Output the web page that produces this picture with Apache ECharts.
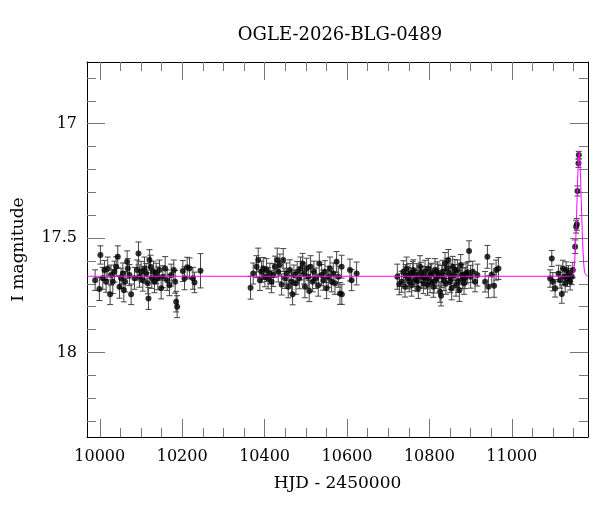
<!DOCTYPE html>
<html>
<head>
<meta charset="utf-8">
<script src="https://cdn.jsdelivr.net/npm/echarts@6/dist/echarts.min.js"></script>
<style>html,body{margin:0;padding:0;background:#fff;}#c{width:600px;height:512px;}</style>
</head>
<body>
<div id="c"></div>
<script>
var titleText = 'OGLE-2026-BLG-0489';
var xName = 'HJD - 2450000';
var yName = 'I magnitude';

var xMajorTicks = [10000, 10200, 10400, 10600, 10800, 11000];
var xMinorTicks = [10050, 10100, 10150, 10250, 10300, 10350, 10450, 10500, 10550, 10650, 10700, 10750, 10850, 10900, 10950, 11050, 11100, 11150];
var yMajorTicks = [17, 17.5, 18];
var yMinorTicks = [16.8, 16.9, 17.1, 17.2, 17.3, 17.4, 17.6, 17.7, 17.8, 17.9, 18.1, 18.2, 18.3];

var hjd = [
  9988.7, 10001.6, 9999.0, 10007.3, 10011.3, 10015.4, 10019.4, 10025.1, 10027.5, 10031.6,
  10035.6, 10039.7, 10043.7, 10047.8, 10051.8, 10055.9, 10058.3, 10061.5, 10066.4, 10068.0,
  10072.1, 10076.1, 10084.2, 10090.7, 10093.9, 10096.4, 10100.4, 10104.5, 10108.5, 10112.6,
  10116.6, 10118.2, 10120.6, 10123.1, 10126.3, 10130.4, 10132.8, 10136.9, 10140.9, 10145.0,
  10149.0, 10153.0, 10158.7, 10163.6, 10169.2, 10173.3, 10179.7, 10183.0, 10185.4, 10187.8,
  10201.6, 10205.6, 10212.1, 10217.8, 10226.0, 10230.0, 10244.5,
  10366.0, 10372.4, 10380.5, 10384.6, 10388.6, 10392.7, 10396.7, 10400.8, 10404.8, 10408.9,
  10412.9, 10417.0, 10421.0, 10425.1, 10430.7, 10433.2, 10437.2, 10441.3, 10445.3, 10449.4,
  10453.4, 10457.5, 10461.5, 10465.6, 10468.0, 10471.2, 10476.1, 10479.3, 10484.2, 10487.4,
  10492.3, 10495.5, 10497.9, 10502.0, 10506.0, 10508.5, 10511.7, 10516.6, 10519.8, 10524.7,
  10530.3, 10532.8, 10538.4, 10542.5, 10546.5, 10550.6, 10554.6, 10558.7, 10562.7, 10566.8,
  10570.8, 10574.9, 10578.9, 10583.0, 10587.0, 10587.5, 10607.3, 10611.3, 10623.4,
  10722.2, 10732.7, 10736.8, 10740.8, 10744.9, 10748.9, 10753.0, 10757.0, 10761.1, 10765.1,
  10769.2, 10773.2, 10777.3, 10781.3, 10785.4, 10789.4, 10793.5, 10797.5, 10801.6, 10805.6,
  10809.7, 10813.7, 10817.8, 10821.8, 10825.9, 10828.3, 10832.3, 10835.6, 10838.0, 10842.0,
  10846.1, 10850.1, 10854.2, 10856.6, 10859.9, 10864.7, 10868.0, 10872.8, 10876.0, 10880.9,
  10884.1, 10889.0, 10896.3, 10900.3, 10905.2, 10910.9, 10916.5, 10935.2, 10940.8, 10943.3,
  10951.4, 10957.0, 10961.9, 10967.6,
  10727.0, 10742.5, 10751.0, 10759.5, 10771.0, 10779.5, 10787.0, 10795.5, 10803.0, 10811.5,
  10819.5, 10830.0, 10840.0, 10848.0, 10852.0, 10862.0, 10870.0, 10878.5, 10886.5, 10893.0,
  11097.1, 11093.1, 11099.6, 11105.2, 11113.3, 11117.4, 11121.4, 11123.9, 11127.1, 11129.5,
  11132.0, 11135.2, 11137.6, 11141.7, 11145.7, 11148.1, 11153.8, 11156.2, 11157.9, 11159.5,
  11161.9, 11162.7
];
var mag = [
  17.684, 17.574, 17.723, 17.676, 17.640, 17.691, 17.633, 17.746, 17.662, 17.691,
  17.647, 17.625, 17.582, 17.713, 17.676, 17.655, 17.727, 17.691, 17.604, 17.633,
  17.662, 17.746, 17.676, 17.640, 17.567, 17.669, 17.647, 17.684, 17.633, 17.655,
  17.698, 17.764, 17.596, 17.625, 17.676, 17.647, 17.691, 17.655, 17.676, 17.640,
  17.720, 17.669, 17.633, 17.684, 17.706, 17.662, 17.640, 17.691, 17.778, 17.800,
  17.644, 17.676, 17.628, 17.633, 17.676, 17.694, 17.643,
  17.717, 17.655, 17.625, 17.596, 17.684, 17.647, 17.633, 17.669, 17.640, 17.676,
  17.655, 17.691, 17.662, 17.625, 17.596, 17.647, 17.618, 17.703, 17.596, 17.676,
  17.655, 17.713, 17.640, 17.691, 17.746, 17.662, 17.698, 17.647, 17.676, 17.633,
  17.611, 17.655, 17.713, 17.633, 17.669, 17.732, 17.625, 17.691, 17.647, 17.676,
  17.706, 17.611, 17.662, 17.684, 17.647, 17.720, 17.669, 17.633, 17.691, 17.655,
  17.698, 17.604, 17.669, 17.742, 17.625, 17.746, 17.640, 17.684, 17.655,
  17.669, 17.691, 17.647, 17.713, 17.633, 17.676, 17.655, 17.706, 17.640, 17.684,
  17.662, 17.720, 17.625, 17.669, 17.698, 17.647, 17.676, 17.633, 17.691, 17.655,
  17.713, 17.640, 17.676, 17.662, 17.735, 17.752, 17.647, 17.684, 17.611, 17.633,
  17.596, 17.691, 17.720, 17.625, 17.662, 17.706, 17.640, 17.727, 17.618, 17.676,
  17.698, 17.655, 17.557, 17.669, 17.647, 17.691, 17.662, 17.691, 17.582, 17.713,
  17.659, 17.709, 17.640, 17.633,
  17.702, 17.664, 17.690, 17.652, 17.688, 17.650, 17.672, 17.705, 17.660, 17.690,
  17.648, 17.668, 17.700, 17.655, 17.675, 17.640, 17.690, 17.660, 17.675, 17.650,
  17.589, 17.677, 17.691, 17.720, 17.655, 17.684, 17.745, 17.633, 17.669, 17.698,
  17.640, 17.677, 17.655, 17.691, 17.669, 17.640, 17.538, 17.450, 17.440, 17.294,
  17.173, 17.137
];
var err = [
  0.045, 0.040, 0.050, 0.048, 0.042, 0.046, 0.050, 0.045, 0.044, 0.052,
  0.046, 0.043, 0.048, 0.050, 0.044, 0.046, 0.052, 0.045, 0.048, 0.043,
  0.046, 0.045, 0.048, 0.044, 0.050, 0.046, 0.045, 0.048, 0.050, 0.044,
  0.046, 0.048, 0.045, 0.050, 0.044, 0.046, 0.048, 0.045, 0.050, 0.044,
  0.046, 0.048, 0.052, 0.045, 0.046, 0.048, 0.044, 0.050, 0.045, 0.048,
  0.046, 0.050, 0.044, 0.046, 0.048, 0.045, 0.075,
  0.050, 0.046, 0.048, 0.052, 0.045, 0.046, 0.048, 0.044, 0.050, 0.046,
  0.045, 0.048, 0.050, 0.046, 0.052, 0.045, 0.048, 0.046, 0.050, 0.044,
  0.046, 0.048, 0.045, 0.050, 0.046, 0.044, 0.048, 0.045, 0.046, 0.050,
  0.044, 0.046, 0.048, 0.045, 0.050, 0.046, 0.048, 0.044, 0.046, 0.045,
  0.048, 0.050, 0.046, 0.044, 0.048, 0.045, 0.046, 0.050, 0.044, 0.046,
  0.048, 0.045, 0.046, 0.048, 0.050, 0.044, 0.048, 0.046, 0.050,
  0.055, 0.046, 0.048, 0.045, 0.050, 0.046, 0.044, 0.048, 0.045, 0.046,
  0.050, 0.044, 0.048, 0.046, 0.045, 0.050, 0.046, 0.044, 0.048, 0.045,
  0.046, 0.050, 0.044, 0.048, 0.046, 0.045, 0.050, 0.046, 0.048, 0.044,
  0.046, 0.048, 0.050, 0.045, 0.046, 0.048, 0.044, 0.050, 0.046, 0.045,
  0.048, 0.046, 0.045, 0.050, 0.046, 0.044, 0.048, 0.045, 0.050, 0.048,
  0.046, 0.050, 0.044, 0.048,
  0.046, 0.048, 0.045, 0.050, 0.046, 0.044, 0.048, 0.045, 0.046, 0.050,
  0.044, 0.048, 0.046, 0.045, 0.050, 0.046, 0.048, 0.044, 0.046, 0.045,
  0.035, 0.038, 0.040, 0.038, 0.036, 0.035, 0.040, 0.036, 0.035, 0.038,
  0.036, 0.035, 0.034, 0.036, 0.035, 0.034, 0.030, 0.028, 0.026, 0.022,
  0.018, 0.016
];

var modelHjd = [9969, 11140, 11148, 11151, 11154, 11156, 11158, 11160, 11162, 11163.5, 11165, 11167, 11169, 11171, 11173, 11176, 11179, 11185];
var modelMag = [17.667, 17.667, 17.660, 17.640, 17.560, 17.470, 17.360, 17.240, 17.150, 17.120, 17.150, 17.240, 17.360, 17.470, 17.560, 17.640, 17.660, 17.667];

var xMin = 9969, xMax = 11185, yMin = 16.73, yMax = 18.37;

var pts = hjd.map(function (t, i) { return [t, mag[i], err[i]]; });
var model = modelHjd.map(function (t, i) { return [t, modelMag[i]]; });

var FONT = 'DejaVu Serif';
var tickCol = '#777';

function xAx(pos, major, showLabel) {
  return {
    type: 'value', position: pos, min: xMin, max: xMax,
    axisLine: { show: major, lineStyle: { color: '#000', width: 1 } },
    axisTick: { show: true, inside: true, length: major ? 18 : 9, customValues: major ? xMajorTicks : xMinorTicks, lineStyle: { color: tickCol, width: 1 } },
    axisLabel: { show: showLabel, customValues: xMajorTicks, formatter: function (v) { return String(v); }, fontFamily: FONT, fontSize: 16, color: '#000', margin: 12 },
    splitLine: { show: false },
    name: showLabel ? xName : '', nameLocation: 'middle', nameGap: 38,
    nameTextStyle: { fontFamily: FONT, fontSize: 17, color: '#000' }
  };
}
function yAx(pos, major, showLabel) {
  return {
    type: 'value', position: pos, min: yMin, max: yMax, inverse: true,
    axisLine: { show: major, lineStyle: { color: '#000', width: 1 } },
    axisTick: { show: true, inside: true, length: major ? 18 : 9, customValues: major ? yMajorTicks : yMinorTicks, lineStyle: { color: tickCol, width: 1 } },
    axisLabel: { show: showLabel, customValues: yMajorTicks, formatter: function (v) { return String(v); }, fontFamily: FONT, fontSize: 16, color: '#000', margin: 10 },
    splitLine: { show: false },
    name: showLabel ? yName : '', nameLocation: 'middle', nameGap: 60,
    nameTextStyle: { fontFamily: FONT, fontSize: 17, color: '#000' }
  };
}

var chart = echarts.init(document.getElementById('c'), null, { renderer: 'canvas' });
chart.setOption({
  animation: false,
  backgroundColor: '#fff',
  grid: { left: 87, right: 12, top: 62, bottom: 75, containLabel: false },
  graphic: [{
    type: 'text', x: 340, y: 35,
    style: { text: titleText, fontFamily: FONT, fontSize: 18, fill: '#000', textAlign: 'center', textVerticalAlign: 'middle' }
  }],
  xAxis: [xAx('bottom', true, true), xAx('bottom', false, false), xAx('top', true, false), xAx('top', false, false)],
  yAxis: [yAx('left', true, true), yAx('left', false, false), yAx('right', true, false), yAx('right', false, false)],
  series: [
    {
      type: 'custom', xAxisIndex: 0, yAxisIndex: 0, data: pts, z: 2,
      renderItem: function (params, api) {
        var x = api.value(0), y = api.value(1), e = api.value(2);
        var a = api.coord([x, y - e]);
        var b = api.coord([x, y + e]);
        var c = 3;
        var st = { stroke: '#444', lineWidth: 1 };
        return {
          type: 'group', children: [
            { type: 'line', shape: { x1: a[0], y1: a[1], x2: b[0], y2: b[1] }, style: st },
            { type: 'line', shape: { x1: a[0] - c, y1: a[1], x2: a[0] + c, y2: a[1] }, style: st },
            { type: 'line', shape: { x1: b[0] - c, y1: b[1], x2: b[0] + c, y2: b[1] }, style: st }
          ]
        };
      }
    },
    {
      type: 'scatter', xAxisIndex: 0, yAxisIndex: 0, z: 3,
      data: pts.map(function (p) { return [p[0], p[1]]; }),
      symbol: 'circle', symbolSize: 6, itemStyle: { color: '#000' }
    },
    {
      type: 'line', xAxisIndex: 0, yAxisIndex: 0, z: 4, data: model,
      showSymbol: false, smooth: 0.3, lineStyle: { color: '#ff00ff', width: 1 }
    }
  ]
});
</script>
</body>
</html>
